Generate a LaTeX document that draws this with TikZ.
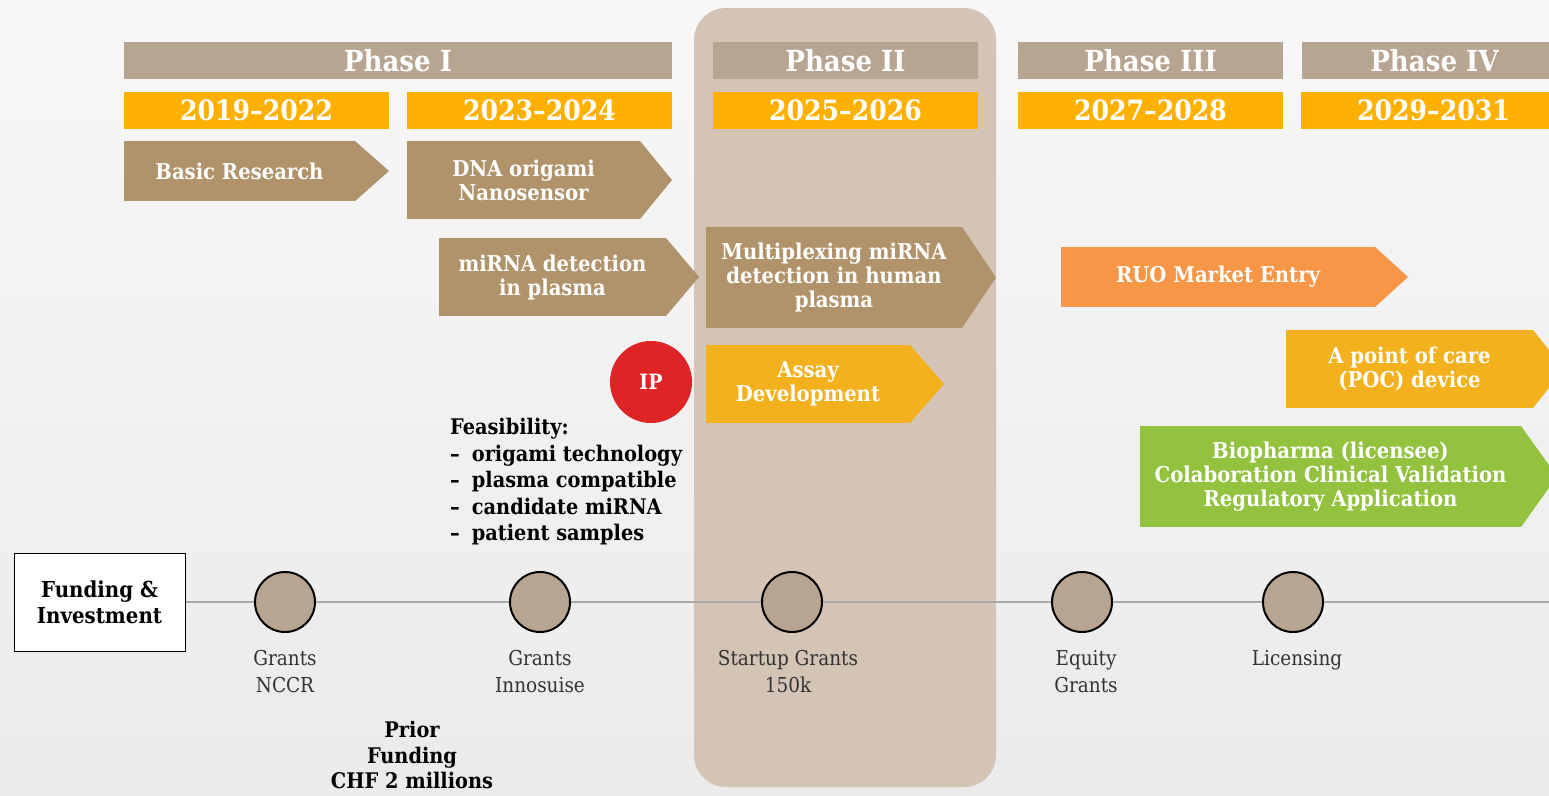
\documentclass[tikz,border=0pt]{standalone}
\usepackage{fontspec}
\setmainfont{DejaVu Serif Condensed}
\usepackage{xcolor}
\usepackage{tikz}
\usetikzlibrary{shapes,arrows,positioning}

\definecolor{phasebg}{HTML}{D3C4B6}
\definecolor{headbrown}{HTML}{B8A591}
\definecolor{yearorange}{HTML}{FFB000}
\definecolor{stepbrown}{HTML}{B0936B}
\definecolor{stepyellow}{HTML}{F4B11E}
\definecolor{steporange}{HTML}{F79646}
\definecolor{stepgreen}{HTML}{93C23F}
\definecolor{ipred}{HTML}{DF2426}
\definecolor{linegray}{HTML}{AAAAAA}

% pointed end on the right side of a step box
\newcommand{\tip}[3]{\fill[#3] (#1.north east) -- ([xshift=#2pt]#1.east) -- (#1.south east) -- cycle;}

\begin{document}
\begin{tikzpicture}[x=1pt, y=-1pt]
  \tikzstyle{head} = [rectangle, fill=headbrown, text=white, font=\fontsize{29}{34}\selectfont\bfseries, minimum width=265, minimum height=37, inner sep=0, outer sep=0]
  \tikzstyle{year} = [head, fill=yearorange, font=\fontsize{28}{34}\selectfont\bfseries]
  \tikzstyle{stepbox} = [rectangle, text=white, font=\fontsize{21.8}{24}\selectfont\bfseries, align=center, inner sep=0, outer sep=0]
  \tikzstyle{fund} = [circle, draw=black, line width=2pt, fill=headbrown, minimum size=60, inner sep=0]
  \tikzstyle{flabel} = [font=\fontsize{20.5}{27}\selectfont, align=center, text=black!80, inner sep=0]
  \tikzstyle{note} = [font=\fontsize{21.5}{26.5}\selectfont\bfseries, inner sep=0]
  \tikzstyle{line} = [draw=linegray, line width=2.5pt]

  \useasboundingbox (0,0) rectangle (1549,795);
  \clip (0,0) rectangle (1549,795);
  \shade[top color=white!97!black, bottom color=black!8!white] (0,0) rectangle (1549,795);
  \fill[phasebg, rounded corners=32] (694,8) rectangle (996,787);

  % phases and years
  \node[head, minimum width=548] (p1) at (398,60.5) {Phase I};
  \node[head] (p2) at (845.5,60.5) {Phase II};
  \node[head] (p3) at (1150.5,60.5) {Phase III};
  \node[head] (p4) at (1434.5,60.5) {Phase IV};
  \node[year] (y1) at (256.5,110.5) {2019–2022};
  \node[year] (y2) at (539.5,110.5) {2023–2024};
  \node[year] (y3) at (845.5,110.5) {2025–2026};
  \node[year] (y4) at (1150.5,110.5) {2027–2028};
  \node[year] (y5) at (1433.5,110.5) {2029–2031};

  % steps
  \node[stepbox, fill=stepbrown, minimum width=231, minimum height=60] (basic) at (239.5,171) {Basic Research};
  \tip{basic}{34}{stepbrown}
  \node[stepbox, fill=stepbrown, minimum width=233, minimum height=78] (origami) at (523.5,180) {DNA origami\\Nanosensor};
  \tip{origami}{32}{stepbrown}
  \node[stepbox, fill=stepbrown, minimum width=227, minimum height=78] (plasma) at (552.5,277) {miRNA detection\\in plasma};
  \tip{plasma}{33}{stepbrown}
  \node[stepbox, fill=stepbrown, minimum width=256, minimum height=101] (multiplex) at (834,277.5) {Multiplexing miRNA\\detection in human\\plasma};
  \tip{multiplex}{34}{stepbrown}
  \node[stepbox, fill=stepyellow, minimum width=204, minimum height=78] (assay) at (808,384) {Assay\\Development};
  \tip{assay}{34}{stepyellow}
  \node[stepbox, fill=steporange, minimum width=314, minimum height=60] (ruo) at (1218,277) {RUO Market Entry};
  \tip{ruo}{33}{steporange}
  \node[stepbox, fill=stepyellow, minimum width=247, minimum height=78] (poc) at (1409.5,369) {A point of care\\(POC) device};
  \tip{poc}{31}{stepyellow}
  \node[stepbox, fill=stepgreen, minimum width=381, minimum height=101] (pharma) at (1330.5,476.5) {Biopharma (licensee)\\Colaboration Clinical Validation\\Regulatory Application};
  \tip{pharma}{36}{stepgreen}

  \node[circle, fill=ipred, minimum size=82, inner sep=0, text=white, font=\fontsize{21}{24}\selectfont\bfseries] (ip) at (651,382) {IP};

  \node[note, align=left, anchor=north west] (feas) at (450,418) {Feasibility:\\–\hspace{12pt}origami technology\\–\hspace{12pt}plasma compatible\\–\hspace{12pt}candidate miRNA\\–\hspace{12pt}patient samples};

  % funding line
  \node[rectangle, draw=black, fill=white, line width=1pt, minimum width=171, minimum height=98, inner sep=0, align=center, font=\fontsize{22}{26}\selectfont\bfseries] (invest) at (99.5,602) {Funding \&\\Investment};
  \node[fund] (nccr) at (285,602) {};
  \node[fund] (inno) at (540,602) {};
  \node[fund] (startup) at (792,602) {};
  \node[fund] (equity) at (1082,602) {};
  \node[fund] (licence) at (1293,602) {};
  \coordinate (lineend) at (1560,602);

  \path [line] (invest) -- (nccr);
  \path [line] (nccr) -- (inno);
  \path [line] (inno) -- (startup);
  \path [line] (startup) -- (equity);
  \path [line] (equity) -- (licence);
  \path [line] (licence) -- (lineend);

  \node[flabel, below=17pt of nccr] (l1) {Grants\\NCCR};
  \node[flabel, below=17pt of inno] (l2) {Grants\\Innosuise};
  \node[flabel, below=17pt of startup, xshift=-4pt] (l3) {Startup Grants\\150k};
  \node[flabel, below=17pt of equity, xshift=4pt] (l4) {Equity\\Grants};
  \node[flabel, below=17pt of licence, xshift=4pt] (l5) {Licensing};

  \node[note, align=center, anchor=north, font=\fontsize{21.5}{25.5}\selectfont\bfseries] (prior) at (412,721) {Prior\\Funding\\CHF 2 millions};
\end{tikzpicture}
\end{document}
